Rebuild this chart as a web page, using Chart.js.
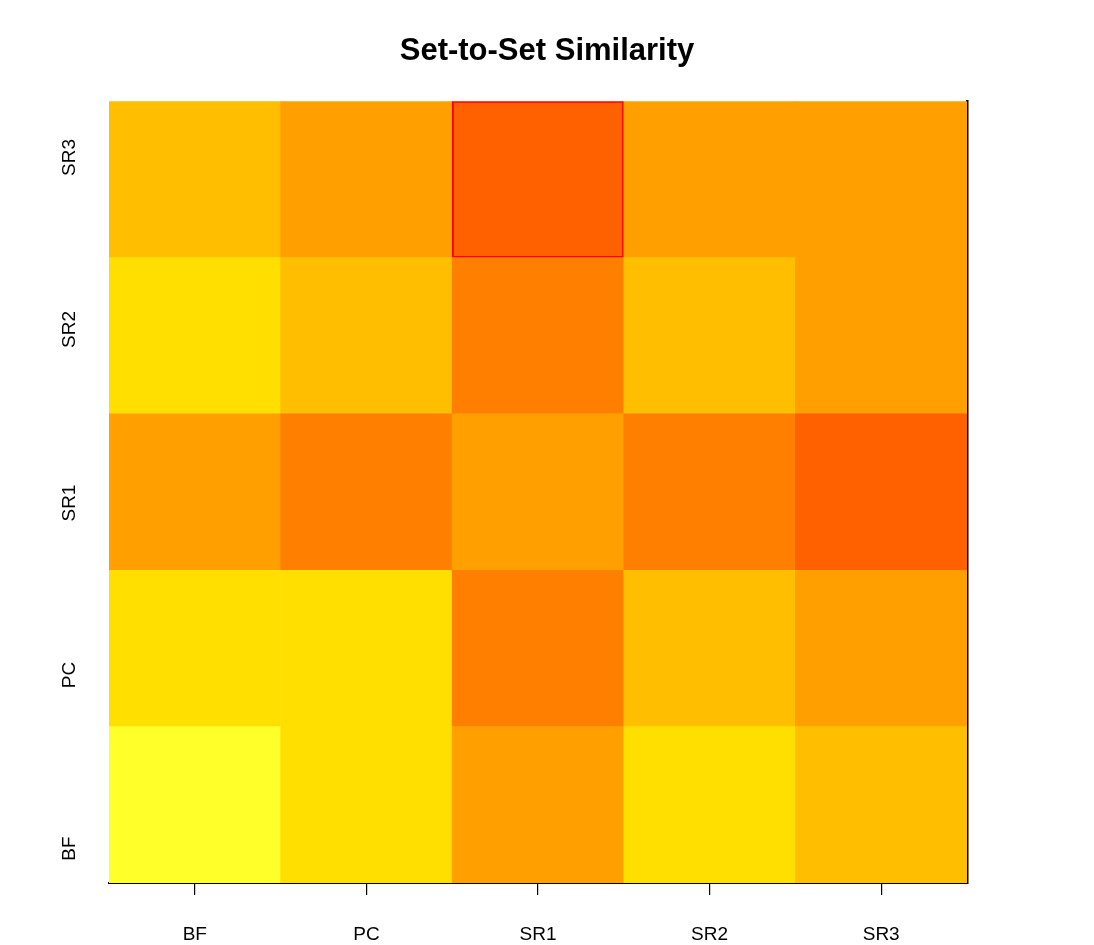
<!DOCTYPE html>
<html>
<head>
<meta charset="utf-8">
<script src="https://cdn.jsdelivr.net/npm/chart.js@4/dist/chart.umd.min.js"></script>
<style>
  html, body { margin: 0; padding: 0; background: #ffffff; }
  #wrap { width: 1094px; height: 945px; position: relative; }
</style>
</head>
<body>
<div id="wrap"><canvas id="heat"></canvas></div>
<script>
// Sets compared against each other (columns and rows, rows listed bottom to top)
const colLabels = ['BF', 'PC', 'SR1', 'SR2', 'SR3'];
const rowLabels = ['BF', 'PC', 'SR1', 'SR2', 'SR3'];

// Similarity values, one array per row (row order as in rowLabels)
const simBF  = [0.79, 0.62, 0.46, 0.62, 0.54];
const simPC  = [0.62, 0.62, 0.37, 0.54, 0.46];
const simSR1 = [0.46, 0.37, 0.46, 0.37, 0.29];
const simSR2 = [0.62, 0.54, 0.37, 0.54, 0.46];
const simSR3 = [0.54, 0.46, 0.29, 0.46, 0.46];
const rows = [simBF, simPC, simSR1, simSR2, simSR3];

// Positions of the row labels on the vertical axis (in row units)
const rowTickPositions = [0.22, 1.33, 2.43, 3.54, 4.64];

// Cell outlined in red
const highlightRow = 'SR3';
const highlightCol = 'SR1';

// Heat palette, red -> yellow -> white, 12 steps over [0, 1]
const heatColors = ['#FF0000', '#FF2000', '#FF4000', '#FF6000', '#FF8000', '#FF9F00',
                    '#FFBF00', '#FFDF00', '#FFFF00', '#FFFF2A', '#FFFF80', '#FFFFD5'];
function heat(v) {
  const i = Math.min(heatColors.length - 1, Math.max(0, Math.floor(v * heatColors.length)));
  return heatColors[i];
}

const datasets = rows.map((vals, r) => {
  const isHiRow = rowLabels[r] === highlightRow;
  return {
    label: rowLabels[r],
    data: vals.map(() => [r, r + 1]),
    backgroundColor: vals.map(heat),
    borderColor: '#FF0000',
    borderWidth: colLabels.map(c => (isHiRow && c === highlightCol) ? 2 : 0),
    borderSkipped: false,
    barPercentage: 1,
    categoryPercentage: 1
  };
});

const tickFont = { family: '"Liberation Sans", Arial, sans-serif', size: 19 };

new Chart(document.getElementById('heat'), {
  type: 'bar',
  data: { labels: colLabels, datasets },
  options: {
    responsive: true,
    maintainAspectRatio: false,
    animation: false,
    layout: { padding: 0 },
    plugins: {
      legend: { display: false },
      tooltip: { enabled: false },
      title: {
        display: true,
        text: 'Set-to-Set Similarity',
        color: '#000000',
        font: { family: '"Liberation Sans", Arial, sans-serif', size: 31, weight: 'bold' },
        padding: { top: 33, bottom: 31 }
      }
    },
    scales: {
      x: {
        type: 'category',
        stacked: true,
        offset: true,
        z: 1,
        grid: {
          offset: false,
          drawOnChartArea: false,
          drawTicks: true,
          tickLength: 12,
          color: '#000000',
          lineWidth: 1.2
        },
        border: { display: true, color: '#000000', width: 2 },
        ticks: { color: '#000000', font: tickFont, padding: 28, maxRotation: 0 },
        afterFit: s => { s.height = 62; }
      },
      y: {
        type: 'linear',
        position: 'left',
        min: 0,
        max: rowLabels.length,
        grid: { display: false },
        border: { display: false },
        afterBuildTicks: s => { s.ticks = rowTickPositions.map(v => ({ value: v })); },
        ticks: {
          color: '#000000',
          font: tickFont,
          minRotation: 90,
          maxRotation: 90,
          crossAlign: 'center',
          padding: 13,
          autoSkip: false,
          callback: (v, i) => rowLabels[i]
        },
        afterFit: s => { s.width = 109; }
      },
      yRight: {
        type: 'linear',
        position: 'right',
        min: 0,
        max: rowLabels.length,
        z: 1,
        grid: { display: false },
        border: { display: true, color: '#000000', width: 2.5 },
        ticks: { display: false },
        afterFit: s => { s.width = 127; }
      }
    }
  }
});
</script>
</body>
</html>
